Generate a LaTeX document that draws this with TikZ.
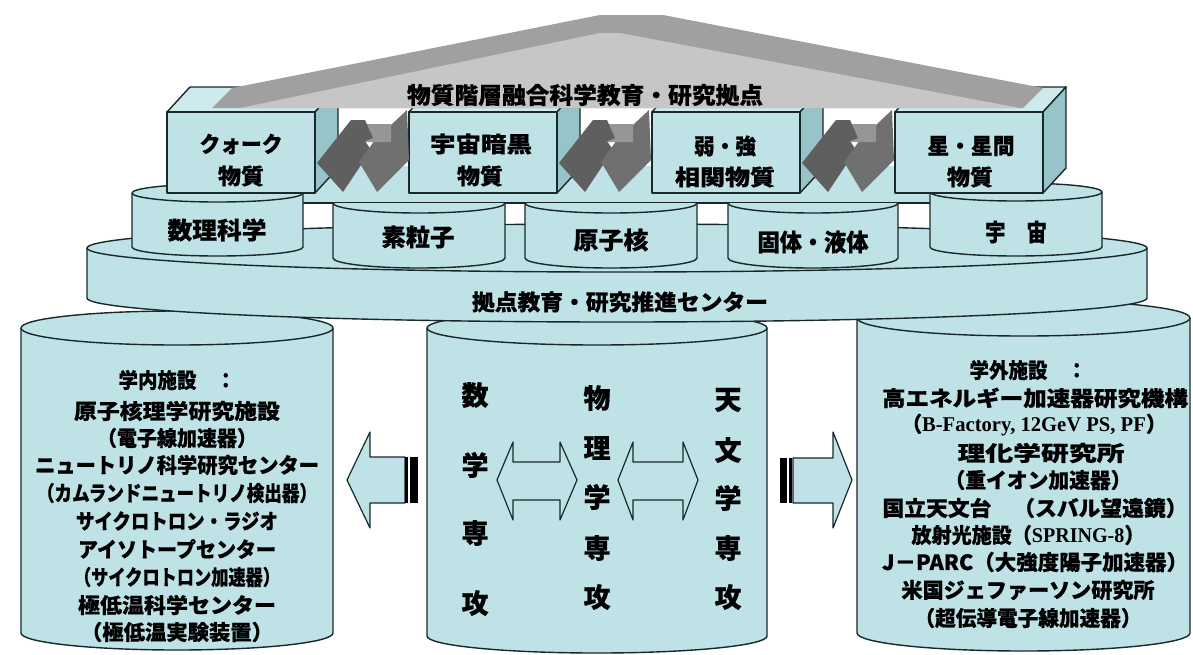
\documentclass[tikz,border=0pt]{standalone}
\usepackage{fontspec}
\usepackage{graphicx}
\setmainfont{Noto Sans CJK JP}[BoldFeatures={FakeBold=0.6}]
\newfontfamily\lserif{Liberation Serif}
\definecolor{cy}{RGB}{190,226,230}
\definecolor{cyside}{RGB}{150,196,201}
\definecolor{cytop}{RGB}{206,234,237}
\definecolor{ln}{RGB}{25,40,40}
\definecolor{roofd}{RGB}{160,160,160}
\definecolor{roofl}{RGB}{198,198,198}
\definecolor{arrd}{RGB}{95,95,95}
\definecolor{arrm}{RGB}{112,112,112}
\definecolor{arrl}{RGB}{150,150,150}
\newcommand{\tw}[2]{\resizebox{#1pt}{\height}{#2}}
\newcommand{\mycyl}[5]{%
  \pgfmathsetmacro\mycx{(#1+#2)/2}\pgfmathsetmacro\myrx{(#2-#1)/2}%
  \fill[cy] (#1,#3) -- (#1,#4) arc[start angle=180,end angle=0,x radius=\myrx,y radius=#5] -- (#2,#3) arc[start angle=0,end angle=-180,x radius=\myrx,y radius=#5] -- cycle;
  \draw[ol] (#1,#3) -- (#1,#4) arc[start angle=180,end angle=0,x radius=\myrx,y radius=#5] -- (#2,#3);
  \draw[ol] (\mycx,#3) ellipse[x radius=\myrx,y radius=#5];
}
\newcommand{\mycylf}[5]{%
  \pgfmathsetmacro\myrx{(#2-#1)/2}%
  \fill[cy] (#1,#3) -- (#1,#4) arc[start angle=180,end angle=0,x radius=\myrx,y radius=#5] -- (#2,#3) -- cycle;
  \draw[ol] (#1,#3) -- (#1,#4) arc[start angle=180,end angle=0,x radius=\myrx,y radius=#5] -- (#2,#3);
  \draw[ol] (#1,#3) arc[start angle=180,end angle=0,x radius=\myrx,y radius=#5];
}
\newcommand{\cubeback}[1]{%
  \filldraw[fill=cytop,ol] (#1,112) -- (#1+23,87) -- (#1+171,87) -- (#1+148,112) -- cycle;
  \filldraw[fill=cyside,ol] (#1+148,112) -- (#1+171,87) -- (#1+171,168) -- (#1+148,193) -- cycle;
}
\newcommand{\cubefront}[1]{%
  \filldraw[fill=cy,ol] (#1,112) rectangle (#1+148,193);
}
\newcommand{\darr}[1]{%
  \fill[arrd] (#1+2,163) -- (#1+36,120) -- (#1+56,150) -- (#1+28,192) -- cycle;
  \fill[arrm] (#1+44,162) -- (#1+60,140) -- (#1+92,110) -- (#1+94,160) -- (#1+62,192) -- cycle;
  \fill[arrl] (#1+40,124) -- (#1+76,124) -- (#1+76,142) -- (#1+50,142) -- cycle;
  \fill[arrd] (#1+36,120) -- (#1+50,120) -- (#1+58,138) -- (#1+48,142) -- cycle;
}
\begin{document}
\begin{tikzpicture}[x=1pt,y=-1pt,line join=round,
  ol/.style={draw=ln,line width=1.4pt},
  lb/.style={inner sep=0pt,text=black,font=\bfseries\fontsize{#1}{#1}\selectfont},
  blk/.style={fill=cy,draw=ln,line width=1.2pt}]
\useasboundingbox (0,0) rectangle (1193,654);
\fill[white] (0,0) rectangle (1193,654);

% platform under the boxes
\fill[cy] (300,166) rectangle (935,203);
\draw[ol] (300,203) -- (935,203);

% big cylinders
\mycyl{21}{333}{328}{633}{17}
\mycyl{427}{767}{328}{636}{17}
\mycyl{857}{1190}{318}{633}{18}

% disc
\mycyl{87}{1147}{248}{298}{24}

% small cylinders
\mycyl{132}{303}{193}{247}{9}
\mycyl{930}{1102}{192}{247}{9}
\mycylf{333}{505}{203}{258}{10}
\mycylf{525}{697}{203}{258}{10}
\mycylf{728}{898}{203}{258}{10}

% boxes (top and side faces)
\cubeback{167}
\cubeback{409}
\cubeback{652}
\cubeback{895}

% roof
\fill[roofd] (212,108) -- (232,88) -- (600,15) -- (663,15) -- (1043,88) -- (1023,108) -- cycle;
\fill[roofl] (240,108) -- (600,33) -- (620,33) -- (1020,108) -- cycle;

% box fronts
\cubefront{167}
\cubefront{409}
\cubefront{652}
\cubefront{895}

% dark double arrows between boxes
\darr{315}
\darr{557}
\darr{800}

% side block arrows
\filldraw[blk] (347,480) -- (370,432) -- (370,457) -- (405,457) -- (405,503) -- (370,503) -- (370,528) -- cycle;
\fill[black] (405,457) rectangle (408,503);
\fill[black] (410,457) rectangle (418,503);
\filldraw[blk] (852,480) -- (833,432) -- (833,458) -- (793,458) -- (793,503) -- (833,503) -- (833,528) -- cycle;
\fill[black] (780,458) rectangle (787,503);
\fill[black] (789,458) rectangle (792,503);

% double arrows in middle cylinder
\filldraw[blk] (497,480) -- (513,442) -- (513,462) -- (560,462) -- (560,442) -- (577,480) -- (560,520) -- (560,500) -- (513,500) -- (513,520) -- cycle;
\filldraw[blk] (618,480) -- (633,442) -- (633,462) -- (683,462) -- (683,442) -- (698,480) -- (683,520) -- (683,500) -- (633,500) -- (633,520) -- cycle;

% texts: roof and boxes
\node[lb=23] (title) at (585,95) {\tw{356}{物質階層融合科学教育・研究拠点}};
\node[lb=22] (b1a) at (241,144) {\tw{83}{クォーク}};
\node[lb=22] (b1b) at (241,176) {\tw{46}{物質}};
\node[lb=22] (b2a) at (481,144) {\tw{102}{宇宙暗黒}};
\node[lb=22] (b2b) at (480,176) {\tw{46}{物質}};
\node[lb=22] (b3a) at (725,146) {\tw{62}{弱・強}};
\node[lb=22] (b3b) at (725,177) {\tw{100}{相関物質}};
\node[lb=22] (b4a) at (971,146) {\tw{87}{星・星間}};
\node[lb=22] (b4b) at (970,177) {\tw{46}{物質}};

% small cylinders
\node[lb=24] (s1) at (217,230) {\tw{99}{数理科学}};
\node[lb=24] (s2) at (418,237) {\tw{73}{素粒子}};
\node[lb=24] (s3) at (611,240) {\tw{75}{原子核}};
\node[lb=24] (s4) at (813,242) {\tw{111}{固体・液体}};
\node[lb=24] (s5) at (1016,232) {\tw{62}{宇　宙}};
\node[lb=22] (disc) at (620,302) {\tw{296}{拠点教育・研究推進センター}};

% left cylinder
\node[lb=21] (l1) at (177,380) {\tw{117}{学内施設　：}};
\node[lb=21] (l2) at (177,411) {\tw{206}{原子核理学研究施設}};
\node[lb=21] (l3) at (177,438) {\tw{160}{（電子線加速器）}};
\node[lb=21] (l4) at (177,465) {\tw{284}{ニュートリノ科学研究センター}};
\node[lb=21] (l5) at (177,493) {\tw{280}{（カムランドニュートリノ検出器）}};
\node[lb=21] (l6) at (177,521) {\tw{202}{サイクロトロン・ラジオ}};
\node[lb=21] (l7) at (177,549) {\tw{198}{アイソトープセンター}};
\node[lb=21] (l8) at (177,577) {\tw{206}{（サイクロトロン加速器）}};
\node[lb=21] (l9) at (177,605) {\tw{198}{極低温科学センター}};
\node[lb=21] (l10) at (177,632) {\tw{192}{（極低温実験装置）}};

% right cylinder
\node[lb=21] (r1) at (1028,370) {\tw{117}{学外施設　：}};
\node[lb=21] (r2) at (1035,398) {\tw{306}{高エネルギー加速器研究機構}};
\node[lb=21] (r3) at (1034,425) {\tw{265}{（{\lserif\bfseries B-Factory, 12GeV PS, PF}）}};
\node[lb=21] (r4) at (1041,453) {\tw{167}{理化学研究所}};
\node[lb=21] (r5) at (1038,480) {\tw{187}{（重イオン加速器）}};
\node[lb=21] (r6) at (1035,508) {\tw{305}{国立天文台　（スバル望遠鏡）}};
\node[lb=21] (r7) at (1028,535) {\tw{233}{放射光施設（{\lserif\bfseries SPRING-8}）}};
\node[lb=21] (r8) at (1035,562) {\tw{306}{J－PARC（大強度陽子加速器）}};
\node[lb=21] (r9) at (1028,590) {\tw{253}{米国ジェファーソン研究所}};
\node[lb=21] (r10) at (1028,618) {\tw{227}{（超伝導電子線加速器）}};

% middle columns
\node[lb=27] (m1) at (475,395) {数};
\node[lb=27] (m2) at (475,465) {学};
\node[lb=27] (m3) at (475,533) {専};
\node[lb=27] (m4) at (475,603) {攻};
\node[lb=27] (p1) at (597,398) {物};
\node[lb=27] (p2) at (597,448) {理};
\node[lb=27] (p3) at (597,497) {学};
\node[lb=27] (p4) at (597,548) {専};
\node[lb=27] (p5) at (597,597) {攻};
\node[lb=27] (a1) at (728,400) {天};
\node[lb=27] (a2) at (728,450) {文};
\node[lb=27] (a3) at (728,498) {学};
\node[lb=27] (a4) at (728,548) {専};
\node[lb=27] (a5) at (728,597) {攻};
\end{tikzpicture}
\end{document}
